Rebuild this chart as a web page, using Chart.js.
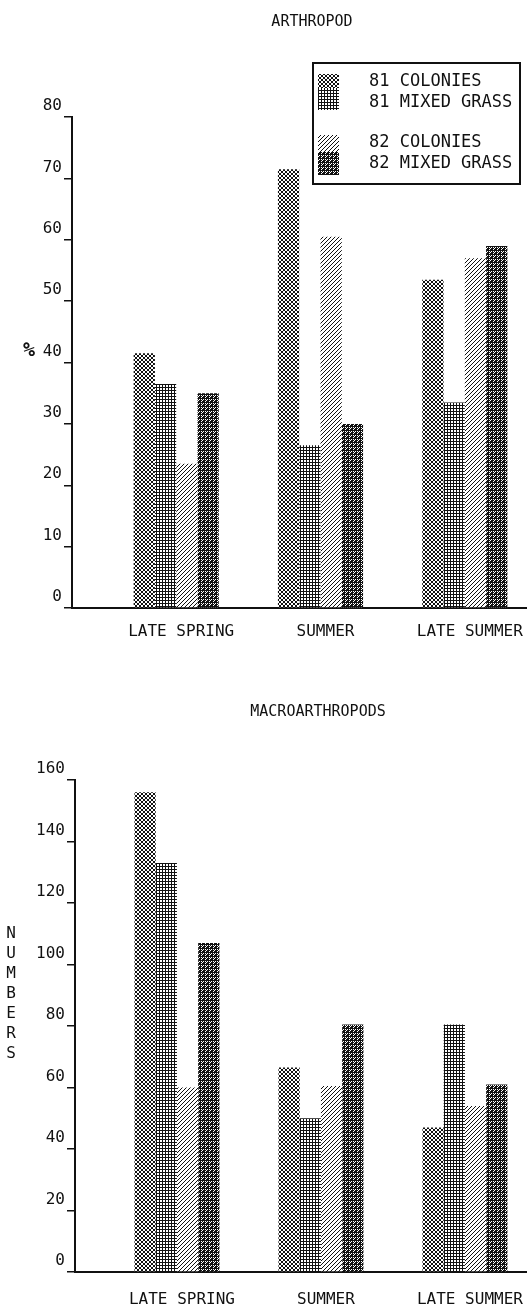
<!DOCTYPE html>
<html>
<head>
<meta charset="utf-8">
<script src="https://cdn.jsdelivr.net/npm/chart.js@4.4.1/dist/chart.umd.min.js"></script>
<style>
  body { margin: 0; background: #fff; }
  canvas { position: absolute; left: 0; }
  #arthro { top: 0; }
  #macro { top: 650px; }
</style>
</head>
<body>
<canvas id="arthro" width="527" height="650"></canvas>
<canvas id="macro" width="527" height="660"></canvas>
<script>
// categorias e séries
const categories = ['LATE SPRING', 'SUMMER', 'LATE SUMMER'];
const seriesNames = ['81 COLONIES', '81 MIXED GRASS', '82 COLONIES', '82 MIXED GRASS'];

// ARTHROPOD (%)
const arth81Colonies = [41.5, 71.5, 53.5];
const arth81Mixed = [36.5, 26.5, 33.5];
const arth82Colonies = [23.5, 60.5, 57];
const arth82Mixed = [35, 30, 59];
const arthTicks = [0, 10, 20, 30, 40, 50, 60, 70, 80];

// MACROARTHROPODS (numbers)
const macro81Colonies = [156, 66.5, 47];
const macro81Mixed = [133, 50, 80.5];
const macro82Colonies = [60, 60.5, 54];
const macro82Mixed = [107, 80.5, 61];
const macroTicks = [0, 20, 40, 60, 80, 100, 120, 140, 160];

const FONT = 'DejaVu Sans Mono';
const INK = '#111';

// padrões de preenchimento (pixel a pixel)
function makePattern(rows) {
    const c = document.createElement('canvas');
    c.width = rows[0].length;
    c.height = rows.length;
    const g = c.getContext('2d');
    g.fillStyle = '#fff';
    g.fillRect(0, 0, c.width, c.height);
    g.fillStyle = INK;
    rows.forEach((r, y) => {
        for (let x = 0; x < r.length; x++) {
            if (r[x] === '#') g.fillRect(x, y, 1, 1);
        }
    });
    return g.createPattern(c, 'repeat');
}

const patterns = [
    makePattern(['.##.', '#..#', '#..#', '.##.']),   // círculos
    makePattern(['###', '#..', '#..']),              // grade
    makePattern(['...#', '..#.', '.#..', '#...']),   // hachura
    makePattern(['##.#', '#.##', '####', '#.#.'])    // denso
];

function toPoints(arr) {
    return arr.map((v, i) => ({ x: i + 1, y: v }));
}

// textos soltos (títulos, eixo y)
const textPlugin = {
    id: 'extraText',
    afterDraw(chart, args, opts) {
        const ctx = chart.ctx;
        ctx.save();
        ctx.fillStyle = INK;
        ctx.textAlign = 'center';
        ctx.textBaseline = 'middle';
        (opts.items || []).forEach(t => {
            ctx.font = t.font;
            ctx.fillText(t.text, t.x, t.y);
        });
        ctx.restore();
    }
};

// legenda desenhada à mão (caixa com amostras)
const legendPlugin = {
    id: 'boxLegend',
    afterDraw(chart, args, opts) {
        if (!opts.show) return;
        const ctx = chart.ctx;
        ctx.save();
        ctx.strokeStyle = INK;
        ctx.lineWidth = 2;
        ctx.strokeRect(313, 63, 207, 121);
        const swatches = [[74, 14], [88, 22], [135, 17], [152, 23]];
        const textY = [82, 103, 143, 164];
        ctx.font = '17px ' + FONT;
        ctx.textAlign = 'left';
        ctx.textBaseline = 'middle';
        for (let i = 0; i < 4; i++) {
            ctx.fillStyle = patterns[i];
            ctx.fillRect(318, swatches[i][0], 21, swatches[i][1]);
            ctx.fillStyle = INK;
            ctx.fillText(seriesNames[i], 369, textY[i]);
        }
        ctx.restore();
    }
};

function buildChart(id, series, ticks, yMax, cfg) {
    const datasets = series.map((s, i) => ({
        label: seriesNames[i],
        data: toPoints(s),
        backgroundColor: patterns[i],
        borderWidth: 0,
        barPercentage: 1,
        categoryPercentage: 0.59
    }));

    const ctx = document.getElementById(id).getContext('2d');
    return new Chart(ctx, {
        type: 'bar',
        data: { datasets: datasets },
        options: {
            responsive: false,
            animation: false,
            layout: { padding: { top: cfg.top, left: 0, right: 0, bottom: 0 } },
            plugins: {
                legend: { display: false },
                tooltip: { enabled: false },
                extraText: { items: cfg.texts },
                boxLegend: { show: cfg.legend }
            },
            scales: {
                x: {
                    type: 'linear',
                    offset: false,
                    min: cfg.xMin,
                    max: cfg.xMax,
                    afterBuildTicks: s => { s.ticks = categories.map((c, i) => ({ value: i + 1 })); },
                    afterFit: s => {
                        s.height = cfg.xHeight;
                        s.paddingLeft = 0;   // eixo vai até a borda direita
                        s.paddingRight = 0;
                    },
                    ticks: {
                        callback: v => categories[v - 1] || '',
                        autoSkip: false,
                        maxRotation: 0,
                        padding: cfg.xPad,
                        labelOffset: 5,
                        color: INK,
                        font: { family: FONT, size: 16 }
                    },
                    grid: { offset: false, drawOnChartArea: false, drawTicks: false },
                    border: { color: INK, width: 2 }
                },
                y: {
                    min: 0,
                    max: yMax,
                    afterBuildTicks: s => { s.ticks = ticks.map(v => ({ value: v })); },
                    afterFit: s => { s.width = cfg.yWidth; },
                    ticks: {
                        padding: 2,
                        labelOffset: -11,
                        color: INK,
                        font: { family: FONT, size: 16 }
                    },
                    grid: { drawOnChartArea: false, drawTicks: true, tickLength: 8, color: INK, lineWidth: 1.5 },
                    border: { color: INK, width: 2 }
                }
            }
        },
        plugins: [textPlugin, legendPlugin]
    });
}

buildChart('arthro',
    [arth81Colonies, arth81Mixed, arth82Colonies, arth82Mixed],
    arthTicks, 80,
    {
        top: 117, xHeight: 42, yWidth: 72, xPad: 14, xMin: 0.278, xMax: 3.431, legend: true,
        texts: [
            { text: 'ARTHROPOD', x: 312, y: 22, font: '15px ' + FONT },
            { text: '%', x: 29, y: 351, font: 'bold 20px ' + FONT }
        ]
    });

const numberLetters = 'NUMBERS'.split('').map((ch, i) => ({
    text: ch, x: 11, y: 284 + i * 20, font: '16px ' + FONT
}));

buildChart('macro',
    [macro81Colonies, macro81Mixed, macro82Colonies, macro82Mixed],
    macroTicks, 160,
    {
        top: 130, xHeight: 38, yWidth: 75, xPad: 18, xMin: 0.292, xMax: 3.431, legend: false,
        texts: [{ text: 'MACROARTHROPODS', x: 318, y: 62, font: '15px ' + FONT }].concat(numberLetters)
    });
</script>
</body>
</html>
